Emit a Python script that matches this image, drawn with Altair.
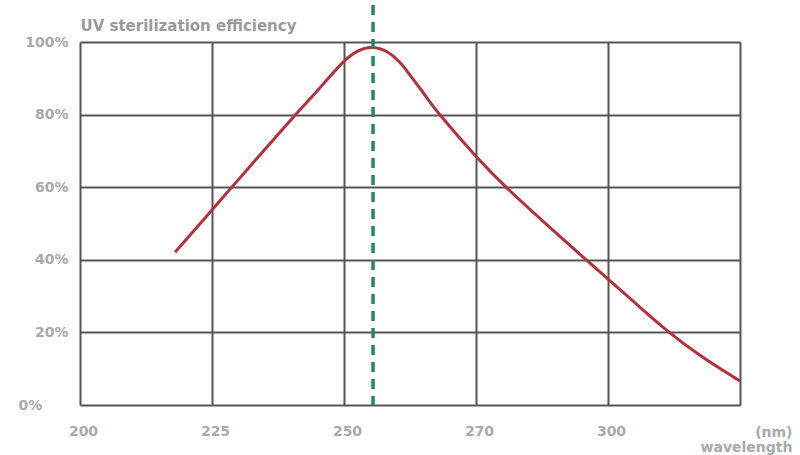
import altair as alt
import pandas as pd

# Curve (wavelength nm, sterilization efficiency %)
wavelength = [218.0, 225.0, 228.8, 234.1, 240.7, 245.5, 249.8, 252.1, 254.2, 256.7,
              258.5, 260.0, 261.5, 263.0, 264.5, 270.0, 276.6, 285.7, 294.8,
              300.0, 304.7, 311.1, 317.4, 325.0]
efficiency = [42.1, 53.7, 60.1, 68.9, 79.9, 87.3, 94.8, 97.8, 98.9, 97.5,
              94.5, 90.9, 87.3, 83.5, 79.9, 68.3, 60.1, 50.1, 40.2,
              34.7, 28.7, 20.4, 13.5, 6.6]

# Axis positions (the reference uses evenly spaced, irregular wavelength ticks)
x_ticks = [200, 225, 250, 270, 300, 325]
y_ticks = [0, 20, 40, 60, 80, 100]
peak_wavelength = [254.4]

W, H = 660, 363
x_scale = alt.Scale(domain=x_ticks, range=[i * W / 5 for i in range(6)])
y_scale = alt.Scale(domain=[0, 100], nice=False)

GRID = "#555555"
LABEL = "#a9a9a9"
FONT = "DejaVu Sans"

x_axis = alt.Axis(
    values=x_ticks,
    labelExpr="datum.value == 325 ? '' : datum.label",
    format="d",
    domain=False,
    ticks=False,
    grid=True,
    gridColor=GRID,
    gridWidth=2,
    gridOpacity=1,
    labelFlush=False,
    labelOffset=3,
    labelColor=LABEL,
    labelFont=FONT,
    labelFontWeight="bold",
    labelFontSize=14,
    labelPadding=19,
    title=["(nm)", "wavelength"],
    titleColor=LABEL,
    titleFont=FONT,
    titleFontWeight="bold",
    titleFontSize=14,
    titleAlign="right",
    titleAnchor="end",
    titleBaseline="middle",
    titleX=712,
    titleY=27,
    titleLineHeight=15,
)

y_axis = alt.Axis(
    values=y_ticks,
    labelExpr="datum.value + '%'",
    domain=False,
    ticks=False,
    grid=True,
    gridColor=GRID,
    gridWidth=2,
    gridOpacity=1,
    labelFlush=False,
    labelColor=LABEL,
    labelFont=FONT,
    labelFontWeight="bold",
    labelFontSize=14,
    labelAlign={"condition": {"test": "datum.value == 0", "value": "left"}, "value": "right"},
    labelPadding={"condition": {"test": "datum.value == 0", "value": 62}, "value": 12},
    title="UV sterilization efficiency",
    titleColor="#9a9a9a",
    titleFont=FONT,
    titleFontWeight="bold",
    titleFontSize=15,
    titleAngle=0,
    titleAlign="left",
    titleBaseline="middle",
    titleX=0,
    titleY=-17,
)

df = pd.DataFrame({"wl": wavelength, "eff": efficiency})
peak = pd.DataFrame({"wl": peak_wavelength})

curve = alt.Chart(df).mark_line(
    color="#b3313c", strokeWidth=3, interpolate="basis"
).encode(
    x=alt.X("wl:Q", scale=x_scale, axis=x_axis),
    y=alt.Y("eff:Q", scale=y_scale, axis=y_axis),
)

rule = alt.Chart(peak).mark_rule(
    color="#23895a", strokeWidth=3.5, strokeDash=[10, 7]
).encode(
    x=alt.X("wl:Q", scale=x_scale, axis=x_axis),
    y=alt.value(-37),
    y2=alt.value(H),
)

chart = alt.layer(curve, rule).properties(
    width=W,
    height=H,
    autosize=alt.AutoSizeParams(type="none"),
    padding={"left": 80, "top": 42, "right": 60, "bottom": 50},
    background="white",
).configure_view(stroke=None)

chart.save("out.html", embed_options={"renderer": "svg", "actions": False})
